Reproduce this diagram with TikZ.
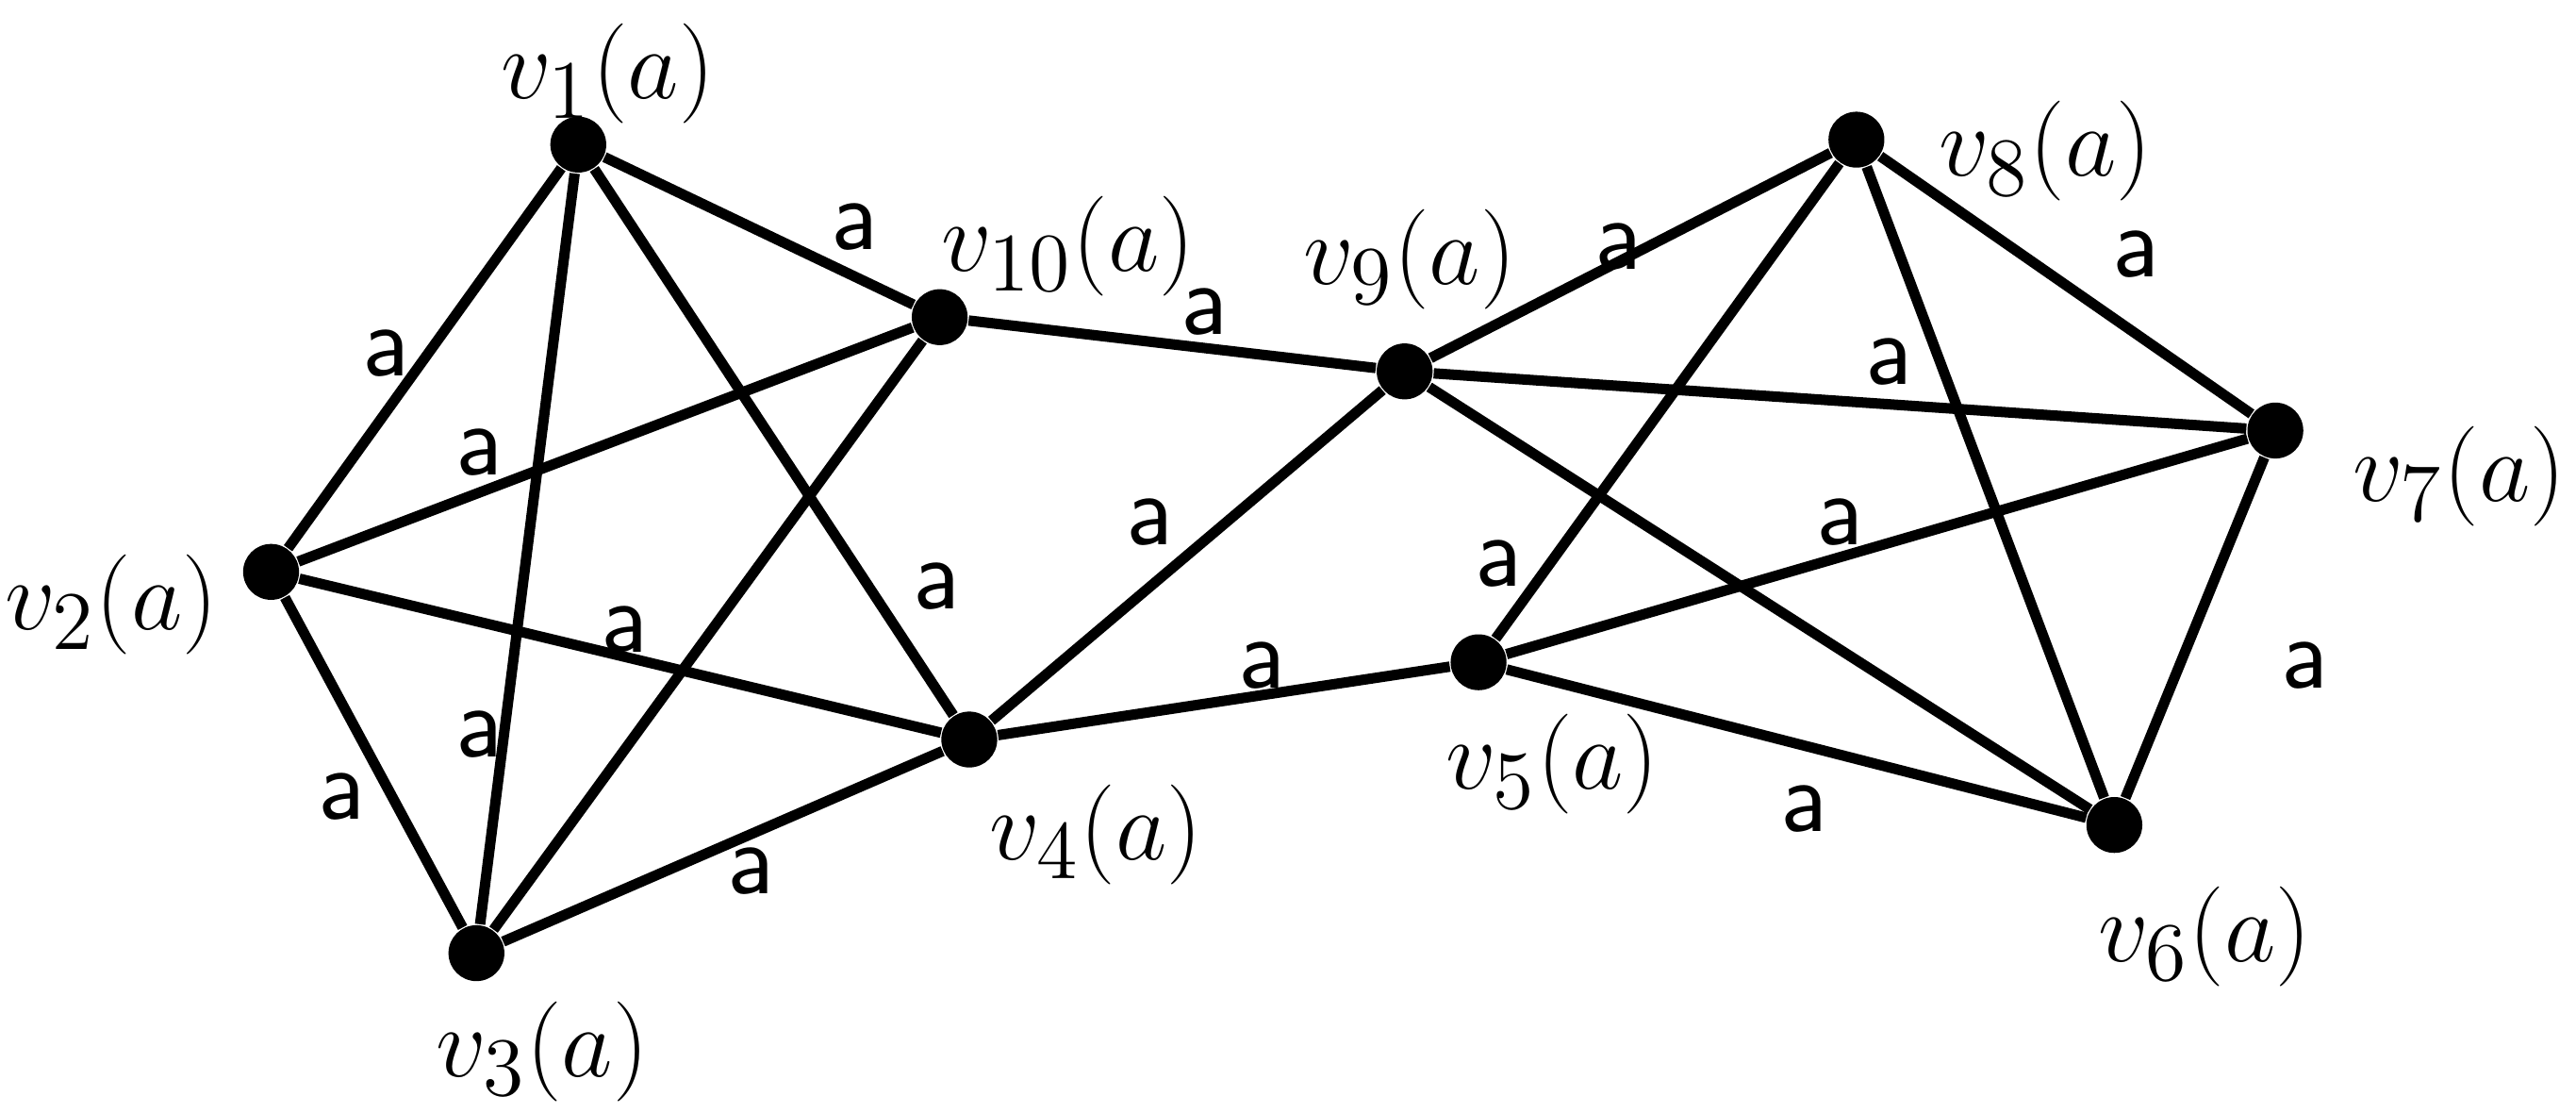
\documentclass[tikz,border=0pt]{standalone}
\begin{document}
\begin{tikzpicture}[x=0.01cm,y=-0.01cm,
  v/.style={circle,fill=black,inner sep=0pt,minimum size=0.34cm},
  e/.style={line width=1.8pt},
  lab/.style={font=\fontsize{19}{22}\selectfont},
  el/.style={font=\fontsize{18}{20}\selectfont\sffamily}]
\useasboundingbox (0,0) rectangle (1568,677);
\node[v] (v1) at (352,88) {};
\node[v] (v2) at (165,348) {};
\node[v] (v3) at (290,580) {};
\node[v] (v4) at (590,450) {};
\node[v] (v10) at (572,193) {};
\node[v] (v9) at (855,226) {};
\node[v] (v5) at (900,403) {};
\node[v] (v8) at (1130,85) {};
\node[v] (v7) at (1385,262) {};
\node[v] (v6) at (1287,502) {};
\foreach \a/\b in {v1/v2,v1/v3,v1/v4,v1/v10,v2/v10,v2/v4,v2/v3,v3/v10,v3/v4,v10/v9,v4/v9,v4/v5,v9/v8,v9/v7,v9/v6,v5/v8,v5/v7,v5/v6,v8/v7,v8/v6,v7/v6}
  \draw[e] (\a) -- (\b);
\node[lab] (l1) at (370,45) {$v_1(a)$};
\node[lab] (l10) at (650,150) {$v_{10}(a)$};
\node[lab] (l9) at (858,158) {$v_9(a)$};
\node[lab] (l8) at (1245,92) {$v_8(a)$};
\node[lab] (l7) at (1497,290) {$v_7(a)$};
\node[lab] (l2) at (68,368) {$v_2(a)$};
\node[lab] (l3) at (330,640) {$v_3(a)$};
\node[lab] (l4) at (667,508) {$v_4(a)$};
\node[lab] (l5) at (945,465) {$v_5(a)$};
\node[lab] (l6) at (1342,570) {$v_6(a)$};
\foreach \x/\y [count=\i] in {235/215,292/275,520/138,570/357,380/383,292/447,208/485,457/530,700/318,733/190,768/405,985/150,1150/220,1300/155,1120/318,912/343,1098/492,1403/405}
  \node[el] (a\i) at (\x,\y) {a};
\end{tikzpicture}
\end{document}
